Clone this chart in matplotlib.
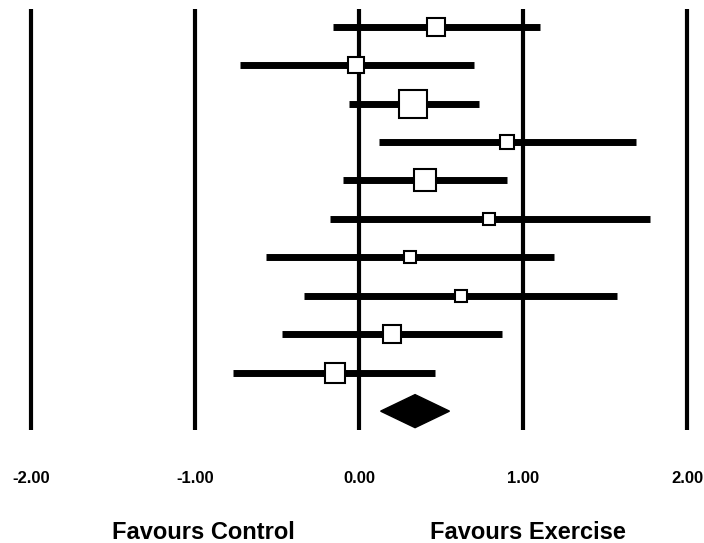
import matplotlib
matplotlib.use("Agg")
import matplotlib.pyplot as plt
import numpy as np

# Study effect sizes (SMD) with 95% CI and relative weights (%)
effects = [0.47, -0.02, 0.33, 0.90, 0.40, 0.79, 0.31, 0.62, 0.20, -0.15]
ci_low = [-0.16, -0.73, -0.06, 0.12, -0.10, -0.18, -0.57, -0.34, -0.47, -0.77]
ci_high = [1.10, 0.70, 0.73, 1.69, 0.90, 1.77, 1.19, 1.57, 0.87, 0.46]
weights = [10.1, 8.5, 24.5, 6.1, 15.1, 4.5, 5.0, 5.0, 9.8, 11.3]

# Pooled estimate
pooled = 0.34
pooled_low = 0.13
pooled_high = 0.55

ref_lines = [-2.0, -1.0, 0.0, 1.0, 2.0]
tick_labels = ["-2.00", "-1.00", "0.00", "1.00", "2.00"]
side_labels = ["Favours Control", "Favours Exercise"]

plt.rcParams["font.family"] = ["Liberation Sans", "DejaVu Sans"]

fig = plt.figure(figsize=(7.04, 5.43), dpi=100)
ax = fig.add_axes([0, 0, 1, 1])
ax.set_xlim(-2.191, 2.102)
ax.set_ylim(14.43, 0.305)
ax.axis("off")

n = len(effects)
rows = np.arange(1, n + 1)

# vertical reference lines
ax.vlines(ref_lines, 0.547, 11.49, color="black", lw=3.0, zorder=1)

# confidence intervals
ax.hlines(rows, ci_low, ci_high, color="black", lw=5.0, zorder=2,
          capstyle="butt")

# study squares, area proportional to weight
for r, e, w in zip(rows, effects, weights):
    side_px = np.sqrt(32 * w)
    ax.plot(e, r, marker="s", ms=side_px * 0.72, mfc="white", mec="black",
            mew=1.5, zorder=3)

# pooled diamond
yd = n + 1
half = 0.43
ax.fill([pooled_low, pooled, pooled_high, pooled],
        [yd, yd - half, yd, yd + half], color="black", zorder=3)

for x, lab in zip(ref_lines, tick_labels):
    ax.text(x, 12.74, lab, ha="center", va="center", fontsize=12,
            fontweight="bold")

ax.text(-0.95, 14.15, side_labels[0], ha="center", va="center",
        fontsize=17, fontweight="bold")
ax.text(1.03, 14.15, side_labels[1], ha="center", va="center",
        fontsize=17, fontweight="bold")

fig.savefig("out.png", dpi=100, facecolor="white")
